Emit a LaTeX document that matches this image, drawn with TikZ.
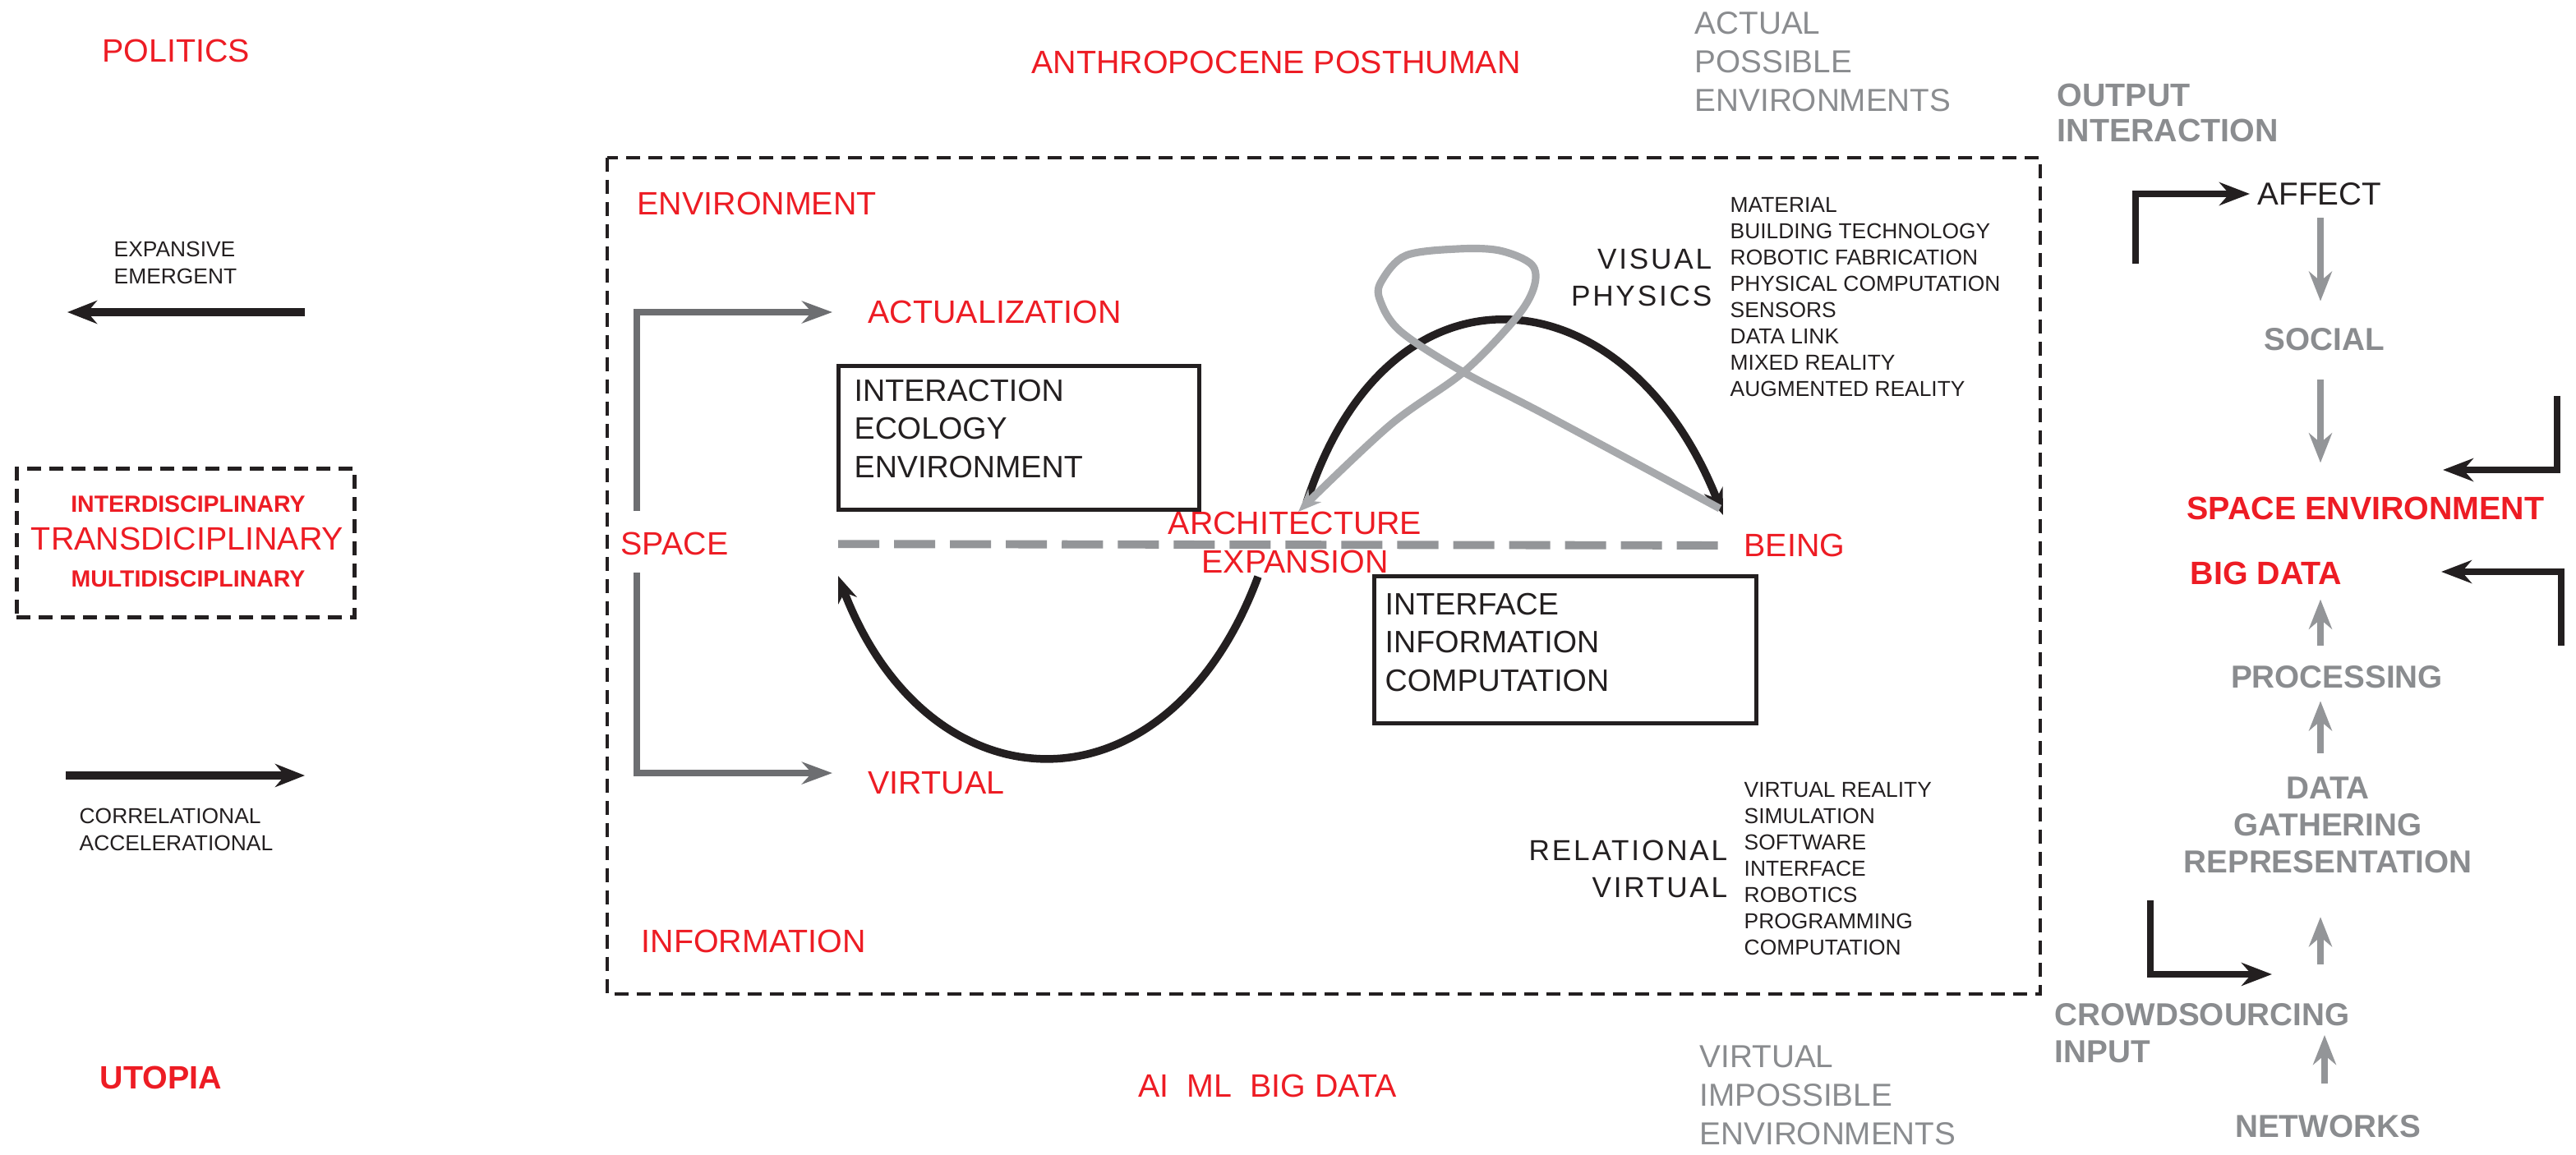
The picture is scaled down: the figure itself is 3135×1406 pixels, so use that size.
\documentclass[tikz,border=0pt]{standalone}
\usepackage{fontspec}
\setmainfont{Liberation Sans}
\newfontfamily\spacedfont[LetterSpace=8]{Liberation Sans}
\usetikzlibrary{arrows.meta}

\definecolor{figred}{HTML}{ED1C24}
\definecolor{figgray}{HTML}{8A8C8F}
\definecolor{argray}{HTML}{939598}
\definecolor{bkgray}{HTML}{6D6E71}
\definecolor{loopgray}{HTML}{A7A9AC}
\definecolor{ink}{HTML}{231F20}

\tikzset{
  redlab/.style={inner sep=0pt, text=figred, font=\fontsize{11.2}{13.4}\selectfont},
  redbold/.style={inner sep=0pt, text=figred, font=\bfseries\fontsize{11.2}{13.4}\selectfont},
  graylab/.style={inner sep=0pt, text=figgray, align=center, font=\bfseries\fontsize{11}{12.8}\selectfont},
  envlab/.style={inner sep=0pt, text=figgray, align=left, font=\fontsize{11}{13.4}\selectfont},
  inklab/.style={inner sep=0pt, text=ink, font=\fontsize{11}{13}\selectfont},
  smalllab/.style={inner sep=0pt, text=ink, align=left, font=\fontsize{7.5}{9.5}\selectfont},
  listlab/.style={inner sep=0pt, text=ink, align=left, font=\fontsize{7.5}{9.1}\selectfont},
  spacedlab/.style={inner sep=0pt, text=ink, font=\spacedfont\fontsize{10}{12.6}\selectfont},
  boxtext/.style={inner sep=0pt, text=ink, align=left, font=\fontsize{10.7}{13.2}\selectfont},
  infobox/.style={draw=ink, line width=1.4pt, inner sep=0pt},
  discbox/.style={draw=ink, line width=1.4pt, dash pattern=on 0.17cm off 0.1cm,
    minimum width=4.11cm, minimum height=1.8cm, inner sep=0pt},
  mainbox/.style={draw=ink, line width=1.4pt, dash pattern=on 0.17cm off 0.1cm},
  midline/.style={draw=argray, line width=2.8pt, dash pattern=on 0.5cm off 0.18cm},
  blackarr/.style={draw=ink, line width=2.6pt, -{Stealth[length=0.36cm, width=0.28cm]}},
  blackbk/.style={draw=ink, line width=2.3pt, -{Stealth[length=0.37cm, width=0.28cm]}},
  graybk/.style={draw=bkgray, line width=2.5pt, -{Stealth[length=0.37cm, width=0.27cm]}},
  grayarr/.style={draw=argray, line width=2.5pt, -{Stealth[length=0.36cm, width=0.28cm]}},
  curvearr/.style={draw=ink, line width=2.7pt, -{Stealth[length=0.32cm, width=0.24cm]}},
  loopline/.style={draw=loopgray, line width=2.6pt, -{Stealth[length=0.28cm, width=0.22cm]}}
}

\begin{document}
\begin{tikzpicture}[x=0.01cm, y=-0.01cm]
\useasboundingbox (0,0) rectangle (3135,1406);

% left column
\node[redlab] (politics) at (214,62) {POLITICS};
\node[smalllab, anchor=west] (expansive) at (138,320) {EXPANSIVE\\EMERGENT};
\coordinate (expR) at (371,380);
\coordinate (expL) at (82,380);
\draw[blackarr] (expR) -- (expL);

\node[discbox] (disc) at (226,661) {};
\node[redbold, font=\bfseries\fontsize{8.1}{10}\selectfont] (inter) at (229,614) {INTERDISCIPLINARY};
\node[redlab] (trans) at (228,656) {TRANSDICIPLINARY};
\node[redbold, font=\bfseries\fontsize{8.1}{10}\selectfont] (multi) at (229,705) {MULTIDISCIPLINARY};

\coordinate (corL) at (80,944);
\coordinate (corR) at (371,944);
\draw[blackarr] (corL) -- (corR);
\node[smalllab, anchor=west] (correl) at (96,1010) {CORRELATIONAL\\ACCELERATIONAL};
\node[redbold] (utopia) at (196,1312) {UTOPIA};

% top and bottom
\node[redlab] (anthro) at (1553,76) {ANTHROPOCENE POSTHUMAN};
\node[envlab, anchor=west] (actualenv) at (2062,75) {ACTUAL\\POSSIBLE\\ENVIRONMENTS};
\node[graylab, anchor=west, align=left, font=\bfseries\fontsize{11.2}{12.2}\selectfont] (output) at (2503,137) {OUTPUT\\INTERACTION};
\node[redlab, anchor=west] (aiml) at (1385,1322) {AI\ \ ML\ \ BIG DATA};
\node[envlab, anchor=west] (virtenv) at (2068,1333) {VIRTUAL\\IMPOSSIBLE\\ENVIRONMENTS};

% main field
\draw[mainbox] (739,192) rectangle (2483,1210);
\node[redlab, anchor=west] (envlab) at (775,248) {ENVIRONMENT};
\node[redlab, anchor=west] (actualiz) at (1056,380) {ACTUALIZATION};
\node[redlab] (space) at (821,662) {SPACE};
\node[redlab, anchor=west] (virtual) at (1056,953) {VIRTUAL};
\node[redlab, anchor=west] (information) at (780,1146) {INFORMATION};
\node[redlab, anchor=west] (being) at (2122,664) {BEING};
\node[redlab] (archi) at (1576,637) {ARCHITECTURE};
\node[redlab] (expan) at (1576,684) {EXPANSION};

\coordinate (spaceup) at (775,622);
\coordinate (spacedn) at (775,697);
\draw[graybk, shorten >=0.43cm] (spaceup) |- (actualiz.west);
\draw[graybk, shorten >=0.43cm] (spacedn) |- ([yshift=3.4pt]virtual.west);
\draw[midline, shorten <=1.33cm, shorten >=0.22cm] (space.east) -- (being.west);

\node[infobox, minimum width=4.38cm, minimum height=1.75cm] (ecobox) at (1240,533) {};
\node[boxtext, anchor=west] (ecotext) at (1039,522) {INTERACTION\\ECOLOGY\\ENVIRONMENT};
\node[infobox, minimum width=4.65cm, minimum height=1.78cm] (compbox) at (1905,791) {};
\node[boxtext, anchor=west] (comptext) at (1685,782) {INTERFACE\\INFORMATION\\COMPUTATION};

\node[spacedlab, anchor=east, align=right] (visual) at (2084,338) {VISUAL\\PHYSICS};
\node[listlab, anchor=west] (physlist) at (2105,362) {MATERIAL\\BUILDING TECHNOLOGY\\ROBOTIC FABRICATION\\PHYSICAL COMPUTATION\\SENSORS\\DATA LINK\\MIXED REALITY\\AUGMENTED REALITY};
\node[spacedlab, anchor=east, align=right] (relational) at (2103,1058) {RELATIONAL\\VIRTUAL};
\node[listlab, anchor=west] (virtlist) at (2122,1058) {VIRTUAL REALITY\\SIMULATION\\SOFTWARE\\INTERFACE\\ROBOTICS\\PROGRAMMING\\COMPUTATION};

% curves
\coordinate (archfoot) at (1590,612);
\coordinate (beingtip) at (2097,627);
\coordinate (expfoot) at (1531,702);
\coordinate (spacetip) at (1020,701);
\draw[curvearr] (archfoot) .. controls (1690,300) and (1980,330) .. (beingtip);
\draw[curvearr] (expfoot) .. controls (1420,1000) and (1130,990) .. (spacetip);
\draw[loopline] plot[smooth, tension=0.55] coordinates {(2093,619) (1883,506) (1781,453) (1704,403) (1679,364) (1682,341) (1711,311) (1774,303) (1825,305) (1864,322) (1867,349) (1845,387) (1781,453) (1691,518) (1580,623)};

% right column
\node[inklab, anchor=west] (affect) at (2747,236) {AFFECT};
\node[graylab] (social) at (2829,413) {SOCIAL};
\node[redbold, anchor=west] (spaceenv) at (2661,619) {SPACE ENVIRONMENT};
\node[redbold, anchor=west] (bigdata) at (2665,698) {BIG DATA};
\node[graylab] (processing) at (2844,824) {PROCESSING};
\node[graylab] (gathering) at (2833,1004) {DATA\\GATHERING\\REPRESENTATION};
\node[graylab, anchor=west, align=left] (crowd) at (2500,1258) {CROWDSOURCING\\INPUT};
\node[graylab] (networks) at (2833,1371) {NETWORKS};

\coordinate (colx) at (2824,0);
\draw[grayarr, shorten <=0.15cm, shorten >=0.32cm] (affect.south -| colx) -- (social.north -| colx);
\draw[grayarr, shorten <=0.35cm, shorten >=0.41cm] (social.south -| colx) -- (spaceenv.north -| colx);
\draw[grayarr, shorten <=0.24cm, shorten >=0.17cm] (processing.north -| colx) -- (bigdata.south -| colx);
\draw[grayarr, shorten <=0.28cm, shorten >=0.15cm] (gathering.north -| colx) -- (processing.south -| colx);
\draw[grayarr, shorten <=0.47cm, shorten >=0.53cm] (crowd.north -| colx) -- (gathering.south -| colx);
\coordinate (netup) at (2829,1260);
\draw[grayarr, shorten <=0.38cm] (networks.north -| netup) -- (netup);

\coordinate (affin) at (2599,321);
\draw[blackbk, shorten >=0.09cm] (affin) |- (affect.west);
\coordinate (envin) at (3112,482);
\coordinate (envtip) at (2973,572);
\draw[blackbk] (envin) |- (envtip);
\coordinate (bdin) at (3117,786);
\coordinate (bdtip) at (2971,696);
\draw[blackbk] (bdin) |- (bdtip);
\coordinate (crin) at (2617,1096);
\coordinate (crtip) at (2765,1186);
\draw[blackbk] (crin) |- (crtip);
\end{tikzpicture}
\end{document}
